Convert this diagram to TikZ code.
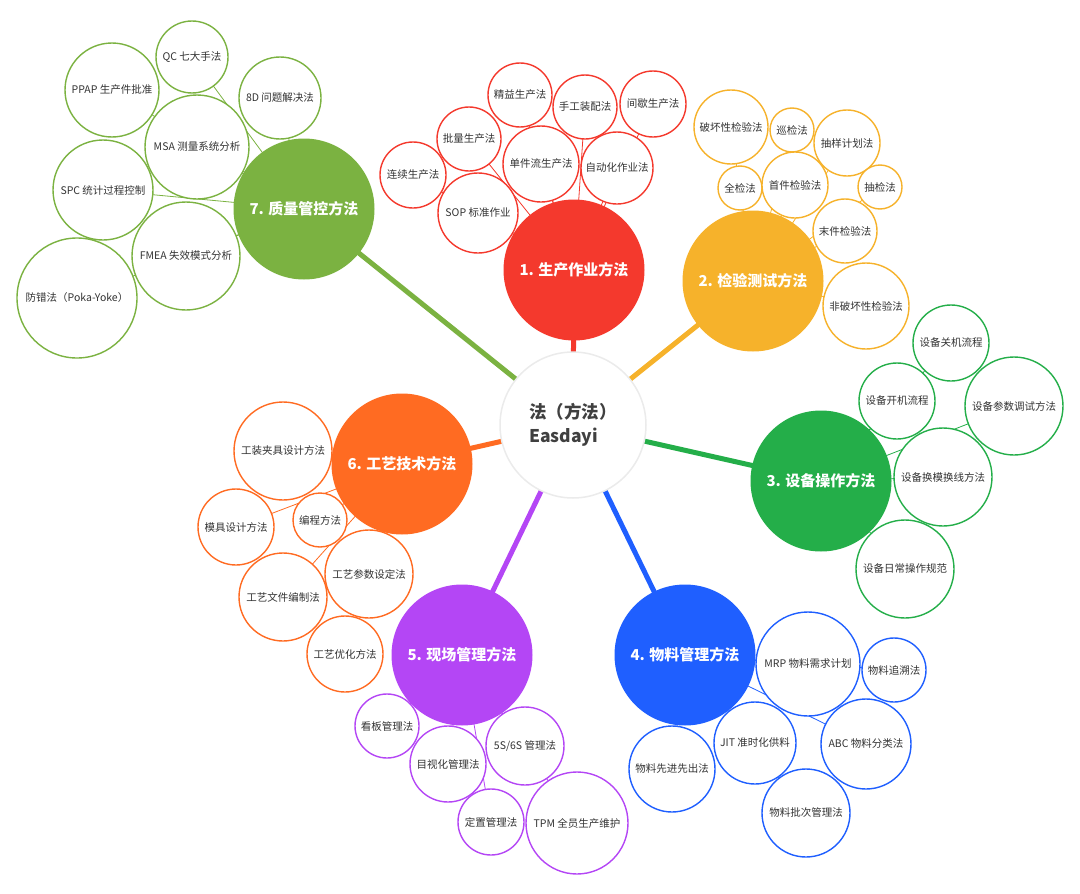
\documentclass[tikz,border=0pt]{standalone}
\usepackage{fontspec}
\setmainfont{Noto Sans CJK SC}
\usetikzlibrary{backgrounds}
\definecolor{cred}{HTML}{F4392D}
\definecolor{cyel}{HTML}{F6B22B}
\definecolor{cgrn}{HTML}{24AE49}
\definecolor{cblu}{HTML}{1F5FFF}
\definecolor{cpur}{HTML}{B446F5}
\definecolor{cora}{HTML}{FF6B22}
\definecolor{coli}{HTML}{7BB241}
\definecolor{ctxt}{HTML}{333333}
\tikzset{
  sub/.style={circle, draw=#1, line width=1.4pt, fill=white, inner sep=0pt, text=ctxt, font=\fontsize{10.5}{12}\selectfont},
  mainc/.style={circle, fill=#1, inner sep=0pt, minimum size=141pt, text=white, font=\fontsize{15}{17}\selectfont\bfseries},
  hub/.style={circle, draw=black!8, line width=1.5pt, fill=white, inner sep=0pt, minimum size=146pt, text=black!75, font=\fontsize{17.5}{24}\selectfont\bfseries, align=left},
  trunk/.style={draw=#1, line width=5pt},
  twig/.style={draw=#1, line width=0.8pt},
}
\begin{document}
\begin{tikzpicture}[x=1pt,y=-1pt]
\useasboundingbox (0,0) rectangle (1080,894);
% hub
\node[hub] (hub) at (573,425) {法（方法）\\Easdayi};
% main nodes
\node[mainc=cred] (m1) at (574,270) {1. 生产作业方法};
\node[mainc=cyel] (m2) at (753,281) {2. 检验测试方法};
\node[mainc=cgrn] (m3) at (821,481) {3. 设备操作方法};
\node[mainc=cblu] (m4) at (685,655) {4. 物料管理方法};
\node[mainc=cpur] (m5) at (462,655) {5. 现场管理方法};
\node[mainc=cora] (m6) at (402,464) {6. 工艺技术方法};
\node[mainc=coli] (m7) at (304,209) {7. 质量管控方法};
% group 7
\node[sub=coli, minimum size=72pt] (a1) at (192,57) {QC 七大手法};
\node[sub=coli, minimum size=94pt] (a2) at (112,90) {PPAP 生产件批准};
\node[sub=coli, minimum size=82pt] (a3) at (280,98) {8D 问题解决法};
\node[sub=coli, minimum size=104pt] (a4) at (197,147) {MSA 测量系统分析};
\node[sub=coli, minimum size=100pt] (a5) at (103,190) {SPC 统计过程控制};
\node[sub=coli, minimum size=108pt] (a6) at (186,256) {FMEA 失效模式分析};
\node[sub=coli, minimum size=120pt] (a7) at (77,298) {防错法（Poka-Yoke）};
% group 1
\node[sub=cred, minimum size=64pt] (b1) at (520,95) {精益生产法};
\node[sub=cred, minimum size=64pt] (b2) at (585,107) {手工装配法};
\node[sub=cred, minimum size=66pt] (b3) at (653,104) {间歇生产法};
\node[sub=cred, minimum size=64pt] (b4) at (469,139) {批量生产法};
\node[sub=cred, minimum size=76pt] (b5) at (541,164) {单件流生产法};
\node[sub=cred, minimum size=72pt] (b6) at (617,168) {自动化作业法};
\node[sub=cred, minimum size=66pt] (b7) at (413,175) {连续生产法};
\node[sub=cred, minimum size=80pt] (b8) at (478,213) {SOP 标准作业};
% group 2
\node[sub=cyel, minimum size=74pt] (c1) at (731,127) {破坏性检验法};
\node[sub=cyel, minimum size=44pt] (c2) at (792,130) {巡检法};
\node[sub=cyel, minimum size=66pt] (c3) at (847,143) {抽样计划法};
\node[sub=cyel, minimum size=44pt] (c4) at (740,188) {全检法};
\node[sub=cyel, minimum size=66pt] (c5) at (795,185) {首件检验法};
\node[sub=cyel, minimum size=44pt] (c6) at (880,187) {抽检法};
\node[sub=cyel, minimum size=64pt] (c7) at (845,231) {末件检验法};
\node[sub=cyel, minimum size=86pt] (c8) at (866,306) {非破坏性检验法};
% group 3
\node[sub=cgrn, minimum size=76pt] (d1) at (951,343) {设备关机流程};
\node[sub=cgrn, minimum size=76pt] (d2) at (897,401) {设备开机流程};
\node[sub=cgrn, minimum size=98pt] (d3) at (1014,406) {设备参数调试方法};
\node[sub=cgrn, minimum size=98pt] (d4) at (943,477) {设备换模换线方法};
\node[sub=cgrn, minimum size=98pt] (d5) at (905,569) {设备日常操作规范};
% group 4
\node[sub=cblu, minimum size=104pt] (e1) at (808,664) {MRP 物料需求计划};
\node[sub=cblu, minimum size=64pt] (e2) at (894,670) {物料追溯法};
\node[sub=cblu, minimum size=82pt] (e3) at (755,743) {JIT 准时化供料};
\node[sub=cblu, minimum size=90pt] (e4) at (866,744) {ABC 物料分类法};
\node[sub=cblu, minimum size=86pt] (e5) at (672,769) {物料先进先出法};
\node[sub=cblu, minimum size=88pt] (e6) at (806,813) {物料批次管理法};
% group 5
\node[sub=cpur, minimum size=64pt] (f1) at (387,726) {看板管理法};
\node[sub=cpur, minimum size=76pt] (f2) at (448,764) {目视化管理法};
\node[sub=cpur, minimum size=78pt] (f3) at (525,746) {5S/6S 管理法};
\node[sub=cpur, minimum size=66pt] (f4) at (491,822) {定置管理法};
\node[sub=cpur, minimum size=102pt] (f5) at (577,823) {TPM 全员生产维护};
% group 6
\node[sub=cora, minimum size=98pt] (g1) at (283,451) {工装夹具设计方法};
\node[sub=cora, minimum size=76pt] (g2) at (236,527) {模具设计方法};
\node[sub=cora, minimum size=54pt] (g3) at (320,520) {编程方法};
\node[sub=cora, minimum size=88pt] (g4) at (369,574) {工艺参数设定法};
\node[sub=cora, minimum size=88pt] (g5) at (283,597) {工艺文件编制法};
\node[sub=cora, minimum size=76pt] (g6) at (345,654) {工艺优化方法};
% connectors
\begin{scope}[on background layer]
\draw[trunk=cred] (hub.center) -- (m1.center);
\draw[trunk=cyel] (hub.center) -- (m2.center);
\draw[trunk=cgrn] (hub.center) -- (m3.center);
\draw[trunk=cblu] (hub.center) -- (m4.center);
\draw[trunk=cpur] (hub.center) -- (m5.center);
\draw[trunk=cora] (hub.center) -- (m6.center);
\draw[trunk=coli] (hub.center) -- (m7.center);
\foreach \n in {a1,a2,a3,a4,a5,a6,a7} \draw[twig=coli] (m7.center) -- (\n.center);
\foreach \n in {b1,b2,b3,b4,b5,b6,b7,b8} \draw[twig=cred] (m1.center) -- (\n.center);
\foreach \n in {c1,c2,c3,c4,c5,c6,c7,c8} \draw[twig=cyel] (m2.center) -- (\n.center);
\foreach \n in {d1,d2,d3,d4,d5} \draw[twig=cgrn] (m3.center) -- (\n.center);
\foreach \n in {e1,e2,e3,e4,e5,e6} \draw[twig=cblu] (m4.center) -- (\n.center);
\foreach \n in {f1,f2,f3,f4,f5} \draw[twig=cpur] (m5.center) -- (\n.center);
\foreach \n in {g1,g2,g3,g4,g5,g6} \draw[twig=cora] (m6.center) -- (\n.center);
\end{scope}
\end{tikzpicture}
\end{document}
